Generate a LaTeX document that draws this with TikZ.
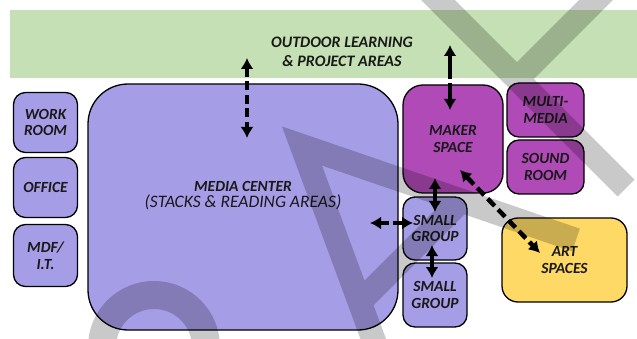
\documentclass[tikz,border=0pt]{standalone}
\usepackage{fontspec}
\setmainfont{Carlito}
\usetikzlibrary{arrows.meta,calc}
\definecolor{greenband}{RGB}{197,224,180}
\definecolor{lav}{RGB}{165,157,230}
\definecolor{plum}{RGB}{175,74,182}
\definecolor{artyel}{RGB}{255,217,102}
\begin{document}
\begin{tikzpicture}[x=1pt,y=-1pt,
  room/.style={draw=black, line width=1.3pt, fill=lav, rounded corners=12pt,
    align=center, inner sep=0pt, text=black!90,
    font=\bfseries\itshape\fontsize{15.5}{16.5}\selectfont},
  boldroom/.style={room},
  plumroom/.style={room, fill=plum},
  lbl/.style={align=center, inner sep=0pt, text=black!90},
  tips/.style={{Latex[length=11pt,width=13pt]}-{Latex[length=11pt,width=13pt]}},
  dasharrow/.style={tips, line width=3.8pt, dash pattern=on 9pt off 4.5pt},
  solidarrow/.style={tips, line width=3.8pt},
  wmark/.style={draw=black, draw opacity=0.21, line width=24pt, line join=miter, line cap=butt}]
\useasboundingbox (0,0) rectangle (637,339);
\begin{scope}
\clip (0,0) rectangle (637,339);
% outdoor band
\node[fill=greenband, minimum width=640pt, minimum height=68pt, inner sep=0pt] (outdoor) at (330,44) {};
\node[lbl, font=\bfseries\itshape\fontsize{16}{19}\selectfont] (outdoortext) at (342,52) {OUTDOOR LEARNING\\\& PROJECT AREAS};
% media center
\node[room, rounded corners=40pt, minimum width=310pt, minimum height=246pt] (media) at (243,207) {};
\node[lbl, font=\fontsize{15.5}{16}\selectfont] (mediatext) at (243,196) {{\bfseries\itshape MEDIA CENTER}\\{\itshape\fontsize{17.5}{16}\selectfont (STACKS \& READING AREAS)}};
% left column
\node[boldroom, minimum width=64pt, minimum height=60pt] (work) at (45.5,122.5) {WORK\\ROOM};
\node[boldroom, minimum width=64pt, minimum height=60pt] (office) at (45.5,187.5) {OFFICE};
\node[boldroom, minimum width=64pt, minimum height=62pt] (mdf) at (45.5,255.5) {MDF/\\I.T.};
% right side
\node[plumroom, rounded corners=20pt, minimum width=100pt, minimum height=108pt] (maker) at (453,139) {MAKER\\SPACE};
\node[plumroom, minimum width=77pt, minimum height=54pt] (multi) at (545.5,110) {MULTI-\\MEDIA};
\node[plumroom, minimum width=77pt, minimum height=54pt] (sound) at (545.5,167) {SOUND\\ROOM};
\node[room, minimum width=64pt, minimum height=63pt] (sg1) at (435,228.5) {SMALL\\GROUP};
\node[room, minimum width=64pt, minimum height=64pt] (sg2) at (435,295) {SMALL\\GROUP};
\node[room, fill=artyel, rounded corners=16pt, minimum width=125pt, minimum height=84pt] (art) at (564.5,260) {ART\\SPACES};
% connector ends
\coordinate (a1t) at (247,58);   \coordinate (a1b) at (247,138);
\coordinate (a2t) at (450,45);   \coordinate (a2b) at (450,110);
\coordinate (a3l) at (370,223);  \coordinate (a3r) at (413,223);
\coordinate (a4t) at (435,178);  \coordinate (a4b) at (435,212);
\coordinate (a5t) at (432,245);  \coordinate (a5b) at (432,278);
\coordinate (a6a) at (460,170);  \coordinate (a6b) at (540,253);
\draw[dasharrow] (a1t) -- (a1b);
\draw[tips, line width=3.8pt, dash pattern=on 24pt off 4pt] (a2t) -- (a2b);
\draw[dasharrow] (a3l) -- (a3r);
\draw[solidarrow] (a4t) -- (a4b);
\draw[solidarrow] (a5t) -- (a5b);
\draw[dasharrow, line width=4.5pt, dash pattern=on 10pt off 5pt] (a6a) -- (a6b);
% watermark
\coordinate (wa1) at (381,360); \coordinate (wa2) at (302,146); \coordinate (wa3) at (576,240);
\coordinate (wc1) at (359.6,302.4); \coordinate (wc2) at (461,201);
\coordinate (wf1) at (418,-20); \coordinate (wf2) at (626,188);
\coordinate (wf3) at (616,-20); \coordinate (wf4) at (517,79);
\draw[wmark] (wa1) -- (wa2) -- (wa3) (wc1) -- (wc2) (wf1) -- (wf2) (wf3) -- (wf4);
\coordinate (wr) at (154,347);
\draw[wmark, line width=28pt] (wr) circle[radius=52pt];
\end{scope}
\end{tikzpicture}
\end{document}
